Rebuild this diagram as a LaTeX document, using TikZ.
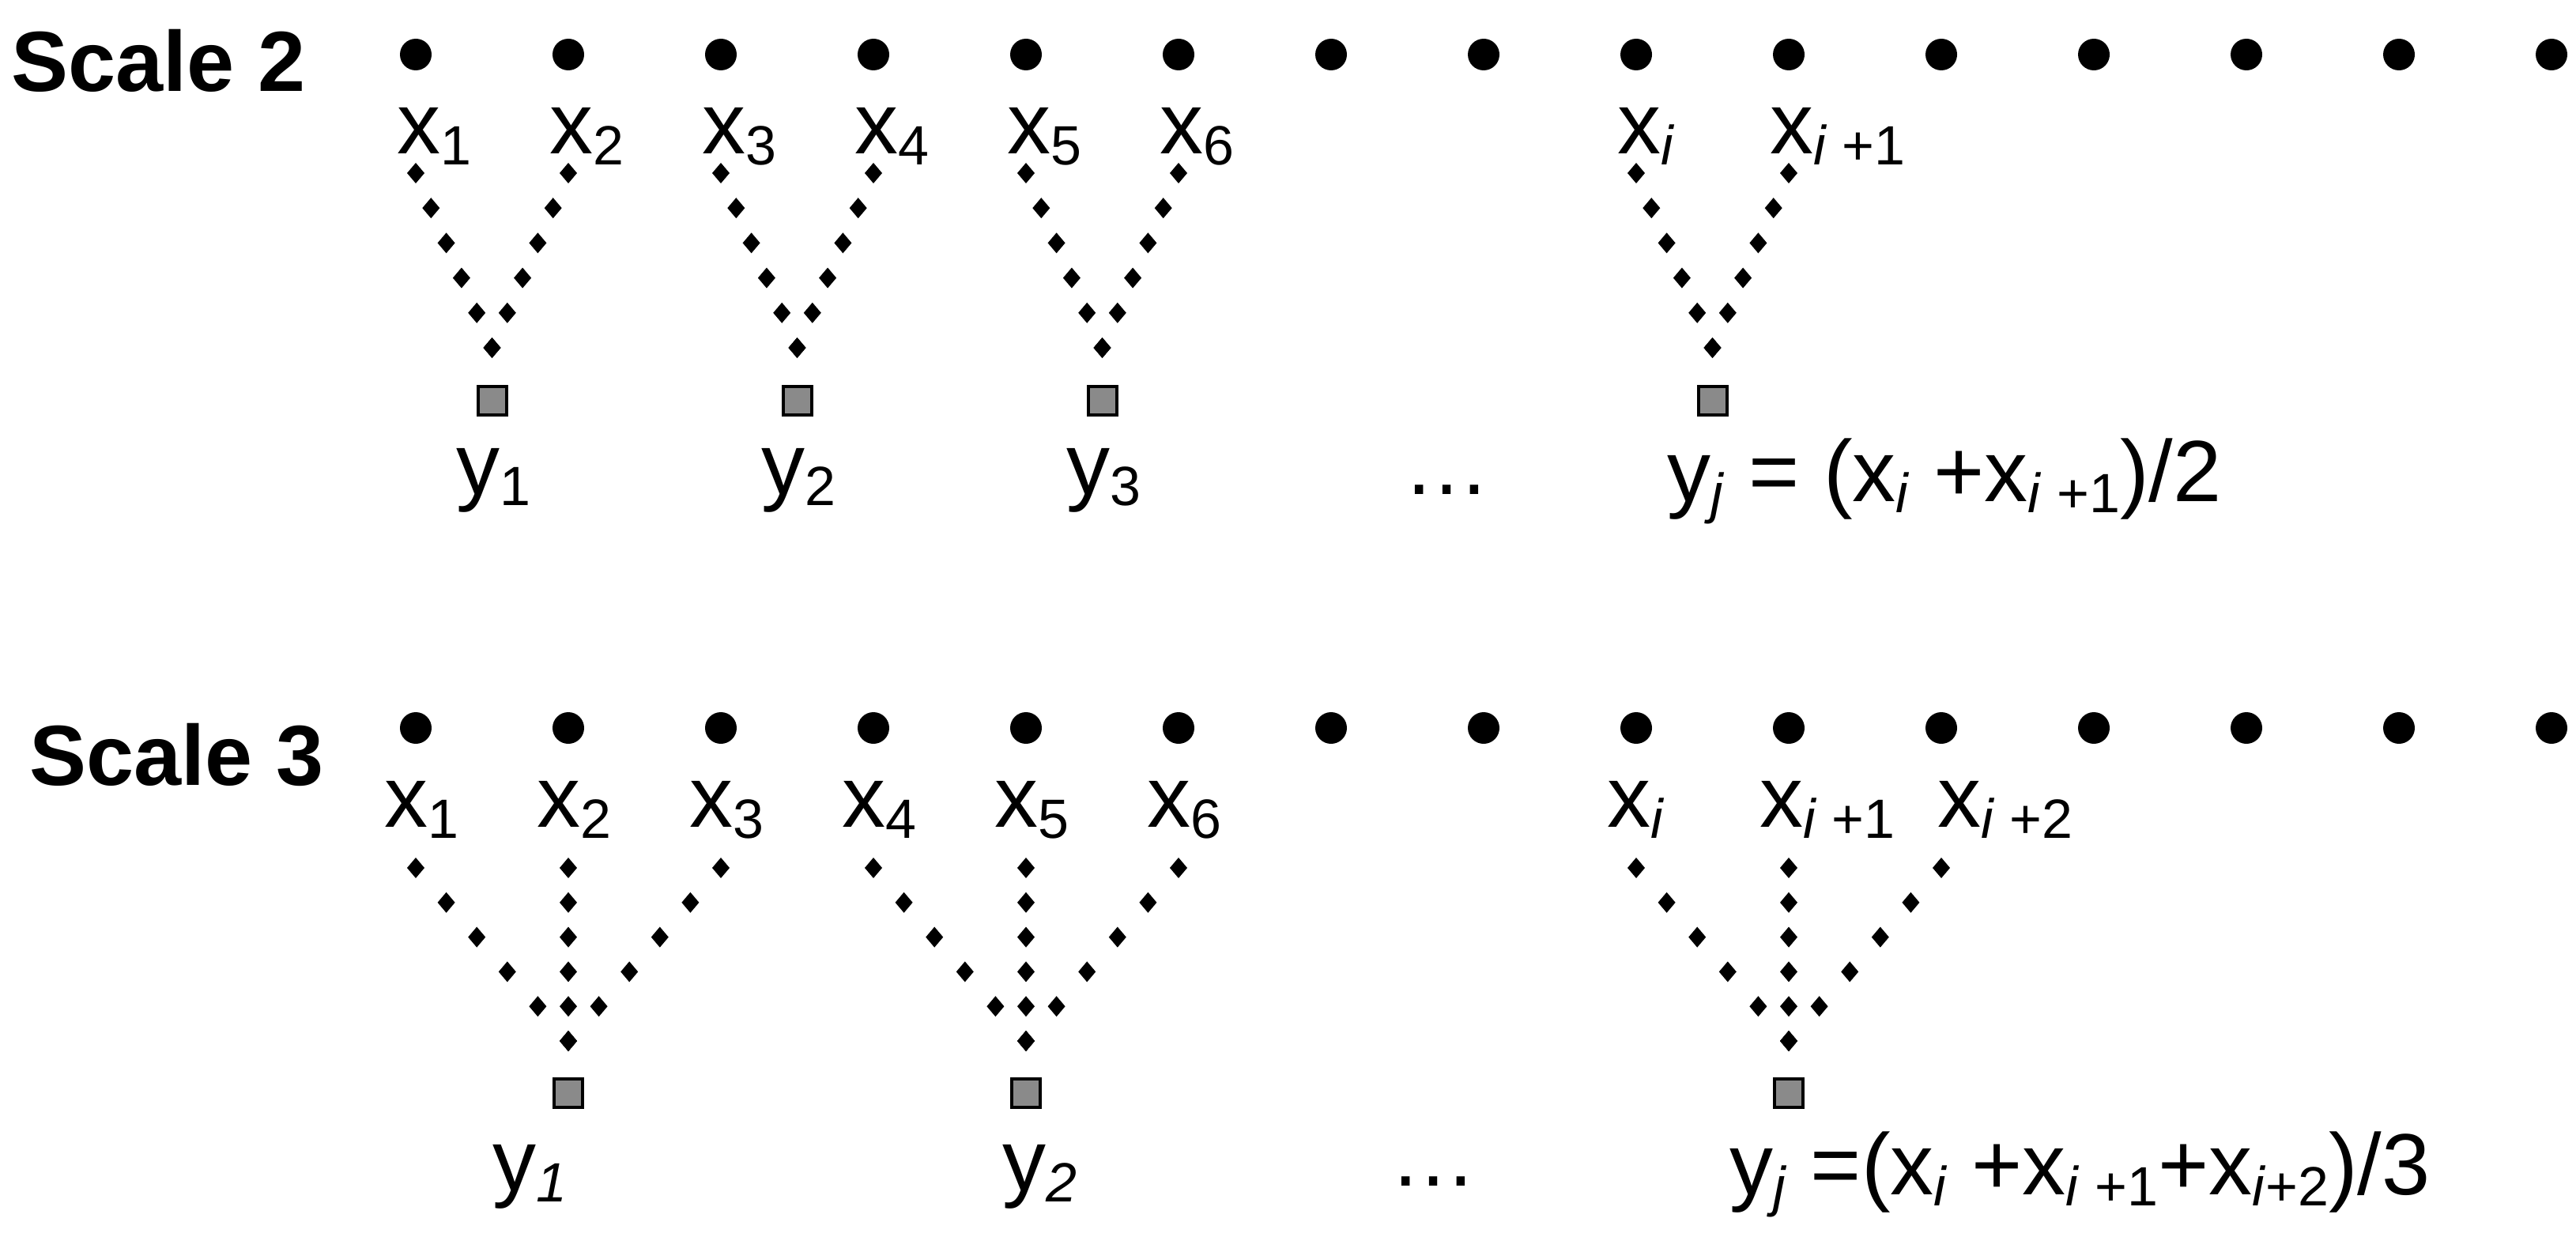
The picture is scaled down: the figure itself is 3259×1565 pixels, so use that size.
\documentclass[tikz,border=0pt]{standalone}
\usepackage{fontspec}
\setmainfont{Liberation Sans}
\usetikzlibrary{calc}
\newcommand\mysub[1]{\raisebox{-0.13em}{\fontsize{70}{70}\selectfont #1}}
\tikzset{
  dot/.style={circle,fill=black,inner sep=0,minimum size=40},
  sqbox/.style={draw=black,line width=4,fill={rgb,255:red,138;green,138;blue,138},minimum size=36,inner sep=0},
  lab/.style={anchor=base west,inner sep=0,font=\fontsize{110}{110}\selectfont},
  ttl/.style={anchor=base west,inner sep=0,font=\fontsize{108}{108}\selectfont\bfseries},
}
\newcommand\dline[2]{\foreach \t in {0,0.2,0.4,0.6,0.8,1}{\fill ($(#1)!\t!(#2)$) +(0,-13) -- +(11,0) -- +(0,13) -- +(-11,0) -- cycle;}}
\begin{document}
\begin{tikzpicture}[x=1pt,y=-1pt]
\useasboundingbox (0,0) rectangle (3259,1565);
\node[ttl] (t2) at (14,116) {Scale 2};
\node[ttl] (t3) at (37,993) {Scale 3};
\foreach \k in {0,...,14}{
  \node[dot] (a\k) at (526+193*\k,69) {};
  \node[dot] (b\k) at (526+193*\k,921) {};
  \coordinate (at\k) at ($(a\k)+(0,150)$);
  \coordinate (bt\k) at ($(b\k)+(0,177)$);
}
% Scale 2 groups
\foreach \p/\q/\n in {0/1/1,2/3/2,4/5/3,8/9/4}{
  \node[sqbox] (s\n) at ($(a\p)!0.5!(a\q)+(0,438)$) {};
  \coordinate (sb\n) at ($(s\n)+(0,-67)$);
  \dline{at\p}{sb\n}
  \dline{at\q}{sb\n}
}
% Scale 3 groups
\foreach \p/\q/\r/\n in {0/1/2/1,3/4/5/2,8/9/10/3}{
  \node[sqbox] (r\n) at ($(b\q)+(0,462)$) {};
  \coordinate (rb\n) at ($(r\n)+(0,-66)$);
  \dline{bt\p}{rb\n}
  \dline{bt\q}{rb\n}
  \dline{bt\r}{rb\n}
}
% row 1 labels
\foreach \k/\s in {0/1,1/2,2/3,3/4,4/5,5/6}{
  \node[lab] (xa\k) at ($(a\k)+(-24,125)$) {x\mysub{\s}};
}
\node[lab] (xa8) at ($(a8)+(-24,125)$) {x\mysub{\textit{i}}};
\node[lab] (xa9) at ($(a9)+(-24,125)$) {x\mysub{\textit{i} +1}};
\node[lab] (ya1) at ($(s1)+(-45,118)$) {y\mysub{1}};
\node[lab] (ya2) at ($(s2)+(-45,118)$) {y\mysub{2}};
\node[lab] (ya3) at ($(s3)+(-45,118)$) {y\mysub{3}};
\node[lab] (el1) at (1775,625) {\dots};
\node[lab] (fa) at ($(s4)+(-57,127)$) {y\mysub{\textit{j}} = (x\mysub{\textit{i}} +x\mysub{\textit{i} +1})/2};
% row 2 labels
\foreach \k/\s in {0/1,1/2,2/3,3/4,4/5,5/6}{
  \node[lab] (xb\k) at ($(b\k)+(-40,125)$) {x\mysub{\s}};
}
\node[lab] (xb8) at ($(b8)+(-37,125)$) {x\mysub{\textit{i}}};
\node[lab] (xb9) at ($(b9)+(-37,125)$) {x\mysub{\textit{i} +1}};
\node[lab] (xb10) at ($(b10)+(-5,125)$) {x\mysub{\textit{i} +2}};
\node[lab] (yb1) at (623,1506) {y\mysub{\textit{1}}};
\node[lab] (yb2) at (1268,1506) {y\mysub{\textit{2}}};
\node[lab] (el2) at (1758,1500) {\dots};
\node[lab] (fb) at (2188,1511) {y\mysub{\textit{j}} =(x\mysub{\textit{i}} +x\mysub{\textit{i} +1}+x\mysub{\textit{i}+2})/3};
\end{tikzpicture}
\end{document}
